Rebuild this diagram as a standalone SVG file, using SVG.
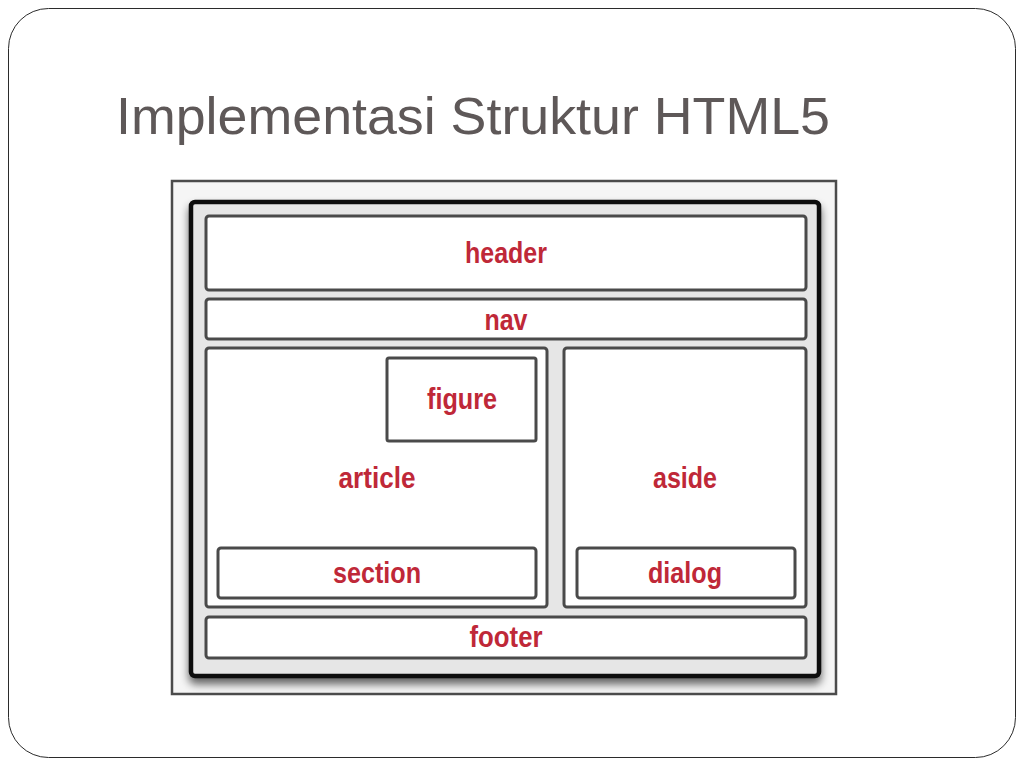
<svg xmlns="http://www.w3.org/2000/svg" width="1024" height="768" viewBox="0 0 1024 768">
<defs>
<style>
.box{fill:#ffffff;stroke:#4a4a4a;stroke-width:3}
.lbl{font-family:"Liberation Sans",Arial,sans-serif;font-weight:bold;font-size:29px;fill:#bf2838;text-anchor:middle}
.title{font-family:"Liberation Sans",Arial,sans-serif;font-size:52px;fill:#5e5858}
</style>
<filter id="sh" x="-5%" y="-5%" width="110%" height="115%">
<feGaussianBlur in="SourceAlpha" stdDeviation="4"/>
<feOffset dx="0" dy="6"/>
<feComponentTransfer><feFuncA type="linear" slope="0.6"/></feComponentTransfer>
<feMerge><feMergeNode/><feMergeNode in="SourceGraphic"/></feMerge>
</filter>
</defs>
<rect x="0" y="0" width="1024" height="768" fill="#ffffff"/>
<rect x="8.5" y="8.5" width="1007" height="749" rx="40" ry="40" fill="#ffffff" stroke="#2b2b2b" stroke-width="1"/>
<text class="title" x="116" y="134" textLength="714" lengthAdjust="spacingAndGlyphs">Implementasi Struktur HTML5</text>
<g id="picture">
<rect x="172" y="181" width="664" height="513" fill="#f5f5f5" stroke="#4b4b4b" stroke-width="2.5"/>
<rect x="191" y="202" width="628" height="474" rx="4" fill="#e6e6e6" stroke="#111111" stroke-width="4.5" filter="url(#sh)"/>
</g>
<g id="header"><rect class="box" x="206" y="216" width="600" height="74" rx="3"/><text class="lbl" x="506" y="263" textLength="82" lengthAdjust="spacingAndGlyphs">header</text></g>
<g id="nav"><rect class="box" x="206" y="299" width="600" height="40" rx="3"/><text class="lbl" x="506" y="330" textLength="43" lengthAdjust="spacingAndGlyphs">nav</text></g>
<g id="article"><rect class="box" x="206" y="348" width="341" height="259" rx="3"/><text class="lbl" x="377" y="488" textLength="77" lengthAdjust="spacingAndGlyphs">article</text></g>
<g id="figure"><rect class="box" x="387" y="358" width="149" height="83" rx="2"/><text class="lbl" x="462" y="409" textLength="70" lengthAdjust="spacingAndGlyphs">figure</text></g>
<g id="section"><rect class="box" x="218" y="548" width="318" height="50" rx="3"/><text class="lbl" x="377" y="583" textLength="88" lengthAdjust="spacingAndGlyphs">section</text></g>
<g id="aside"><rect class="box" x="564" y="348" width="242" height="259" rx="3"/><text class="lbl" x="685" y="488" textLength="64" lengthAdjust="spacingAndGlyphs">aside</text></g>
<g id="dialog"><rect class="box" x="577" y="548" width="218" height="50" rx="3"/><text class="lbl" x="685" y="583" textLength="74" lengthAdjust="spacingAndGlyphs">dialog</text></g>
<g id="footer"><rect class="box" x="206" y="617" width="600" height="41" rx="3"/><text class="lbl" x="506" y="647" textLength="73" lengthAdjust="spacingAndGlyphs">footer</text></g>
<g id="connectors"></g>
</svg>
